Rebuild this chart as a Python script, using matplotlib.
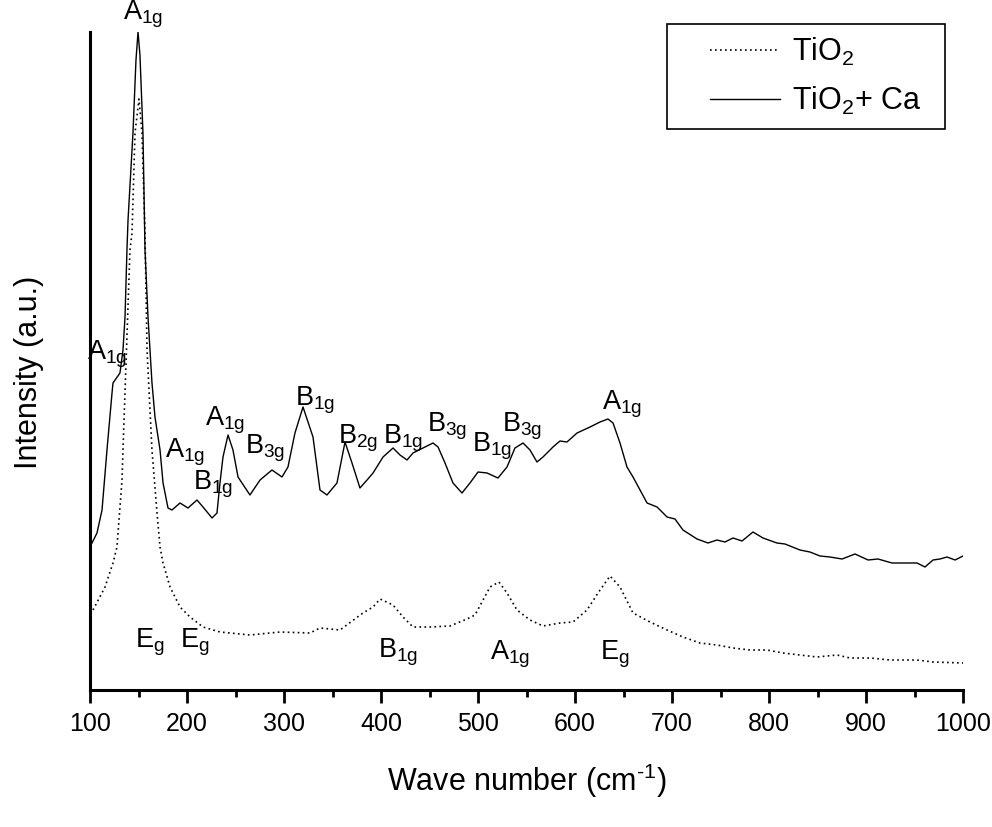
import matplotlib
matplotlib.use("Agg")
import matplotlib.pyplot as plt
from matplotlib.ticker import MultipleLocator
from matplotlib.patches import Rectangle

plt.rcParams['font.family'] = ['Liberation Sans', 'DejaVu Sans']
plt.rcParams['mathtext.fontset'] = 'custom'
plt.rcParams['mathtext.rm'] = 'Liberation Sans'
plt.rcParams['mathtext.it'] = 'Liberation Sans'
plt.rcParams['mathtext.bf'] = 'Liberation Sans:bold'

# ---- TiO2 + Ca (solid) ----
ca_wn = [100, 107.2, 112.4, 117.5, 122.7, 123.7, 130.9, 134.0, 136.1, 138.1,
         139.2, 144.3, 147.4, 149.5, 151.5, 154.6, 156.7, 159.8, 163.9, 167.0,
         172.2, 175.3, 180.4, 184.5, 192.8, 201.0, 210.3, 216.5, 225.8, 230.9,
         234.0, 237.1, 242.3, 247.4, 252.6, 264.9, 275.3, 287.6, 297.9, 304.1,
         311.3, 319.6, 329.9, 337.1, 344.3, 354.6, 362.9, 370.1, 378.3, 385.6,
         391.8, 402.1, 412.4, 419.6, 426.8, 433.0, 443.3, 453.6, 458.8, 466.0,
         474.2, 483.5, 491.7, 500.0, 509.3, 520.6, 529.9, 538.1, 546.4, 553.6,
         560.8, 567.0, 577.3, 584.5, 591.7, 602.1, 615.5, 625.8, 634.0, 639.2,
         646.4, 653.6, 659.8, 674.3, 684.6, 694.9, 703.1, 711.3, 725.8, 737.1,
         746.4, 754.6, 762.9, 772.2, 783.5, 793.8, 808.2, 816.5, 831.9, 842.2,
         852.6, 862.9, 875.3, 888.7, 902.1, 912.4, 926.8, 945.4, 952.6, 960.8,
         969.1, 976.3, 983.5, 991.8, 1000]
ca_int = [143, 157, 180, 240, 297, 307, 317, 340, 373, 440,
          470, 557, 630, 658, 635, 557, 440, 373, 307, 273,
          240, 207, 182, 180, 187, 182, 190, 183, 172, 177,
          207, 233, 255, 240, 213, 195, 210, 220, 213, 223,
          257, 283, 253, 200, 195, 207, 248, 227, 202, 210,
          217, 233, 242, 235, 230, 237, 242, 247, 243, 227,
          207, 197, 207, 218, 217, 212, 223, 242, 247, 240,
          228, 233, 243, 249, 248, 257, 263, 268, 271, 267,
          247, 223, 213, 187, 183, 173, 171, 160, 151, 147,
          150, 148, 152, 149, 158, 152, 147, 146, 140, 138,
          134, 133, 131, 136, 130, 131, 127, 127, 127, 123,
          130, 131, 133, 130, 134]

# ---- TiO2 (dotted) ----
ti_wn = [103.1, 115.5, 123.7, 127.8, 133.0, 134.0, 141.2, 143.3, 146.4, 150.5,
         153.6, 156.7, 158.8, 163.9, 169.1, 172.2, 175.3, 182.5, 192.8, 203.1,
         216.5, 234.0, 264.9, 295.9, 326.8, 337.1, 357.7, 381.4, 391.8, 399.0,
         412.4, 422.7, 433.0, 450.5, 471.1, 488.7, 496.9, 505.2, 512.4, 521.6,
         529.9, 540.2, 553.6, 567.0, 584.5, 597.9, 612.4, 623.7, 636.1, 646.4,
         659.8, 677.3, 694.9, 711.3, 728.8, 746.4, 762.9, 780.4, 797.9, 814.4,
         831.9, 849.5, 870.1, 883.5, 904.1, 924.7, 952.6, 969.1, 1000]
ti_int = [80, 103, 127, 143, 210, 240, 440, 457, 557, 591,
          557, 457, 340, 240, 177, 143, 127, 103, 83, 73,
          63, 58, 55, 58, 57, 62, 60, 77, 83, 91,
          85, 73, 63, 63, 64, 71, 75, 90, 103, 108,
          97, 80, 70, 64, 67, 68, 80, 97, 114, 103,
          77, 68, 60, 53, 47, 45, 42, 40, 40, 37,
          35, 33, 35, 32, 32, 30, 30, 28, 27]

# ---- peak assignments: (symbol, subscript, wave number, intensity) ----
peak_labels = [
    ('A', '1g', 134.0, 670), ('A', '1g', 96.9, 330), ('A', '1g', 177.3, 232),
    ('B', '1g', 206.2, 200), ('A', '1g', 218.6, 265), ('B', '3g', 259.8, 237),
    ('B', '1g', 311.3, 285), ('B', '2g', 355.7, 247), ('B', '1g', 402.1, 247),
    ('B', '3g', 447.4, 258), ('B', '1g', 493.8, 238), ('B', '3g', 524.7, 258),
    ('A', '1g', 627.8, 280),
    ('E', 'g', 146.4, 42), ('E', 'g', 192.8, 42), ('B', '1g', 396.9, 33),
    ('A', '1g', 512.4, 30), ('E', 'g', 625.8, 30),
]

fig = plt.figure(figsize=(9.92, 8.27), dpi=100)
ax = fig.add_axes([90/992, 1-690/827, 873/992, 658/827])

ax.plot(ti_wn, ti_int, color='black', lw=1.2, linestyle=(0, (1, 2)),
        label=r'TiO$_\mathregular{2}$')
ax.plot(ca_wn, ca_int, color='black', lw=1.0, linestyle='-',
        label=r'TiO$_\mathregular{2}$+ Ca')

for main, sub, x, y in peak_labels:
    ax.text(x, y, main + r'$_{\mathregular{' + sub + '}}$', fontsize=19.5,
            ha='left', va='baseline', clip_on=False)

ax.set_xlim(100, 1000)
ax.set_ylim(0, 658)
ax.xaxis.set_major_locator(MultipleLocator(100))
ax.xaxis.set_minor_locator(MultipleLocator(50))
ax.tick_params(axis='x', which='major', direction='out', length=9, width=2,
               labelsize=18, pad=7)
ax.tick_params(axis='x', which='minor', direction='out', length=5, width=2)
ax.tick_params(axis='y', left=False, labelleft=False)

for s in ['top', 'right']:
    ax.spines[s].set_visible(False)
ax.spines['left'].set_linewidth(2.2)
ax.spines['bottom'].set_linewidth(2.2)

ax.set_xlabel('Wave number (cm$^{\\mathregular{\u2010}1}$)', fontsize=22, labelpad=18)
ax.set_ylabel('Intensity (a.u.)', fontsize=22)
ax.yaxis.set_label_coords(-0.053, 0.482)

leg = ax.legend(loc='upper left', bbox_to_anchor=(710/992, 1-36/827),
                bbox_transform=fig.transFigure, frameon=False, fontsize=22,
                handlelength=2.3, handletextpad=0.38, borderpad=0,
                labelspacing=0.55, borderaxespad=0)
fig.patches.append(Rectangle((667/992, 1-129/827), 278/992, 105/827,
                             transform=fig.transFigure, fill=False,
                             edgecolor='black', linewidth=1.2))

fig.savefig('out.png', dpi=100, facecolor='white')
